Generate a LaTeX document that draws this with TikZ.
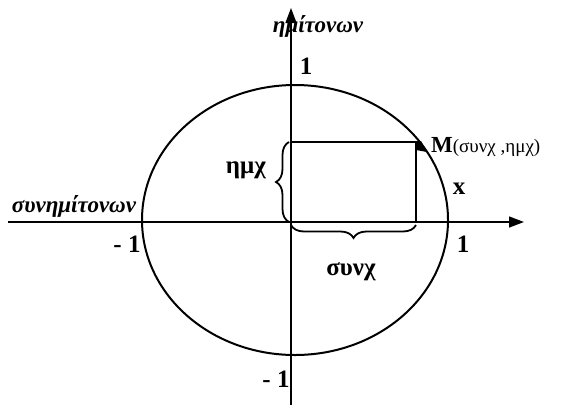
\documentclass[tikz,border=0pt]{standalone}
\usepackage{fontspec}
\setmainfont{Liberation Serif}
\usetikzlibrary{arrows.meta,decorations.pathreplacing,calc}
\tikzset{
  axis/.style={line width=1.3pt,-{Triangle[length=15pt,width=11pt]}},
  curve/.style={line width=2pt},
  thin/.style={line width=1.3pt},
  brc/.style={line width=1.8pt,decorate,decoration={brace,amplitude=13pt}},
  lab/.style={inner sep=0pt,font=\fontsize{25}{27}\selectfont\bfseries},
  ital/.style={inner sep=0pt,font=\fontsize{23}{25}\selectfont\itshape\bfseries}
}
\begin{document}
\begin{tikzpicture}[x=1pt,y=-1pt]
\useasboundingbox (0,0) rectangle (569,405);
\coordinate (O) at (291,222);
\coordinate (xs) at (8,222);
\coordinate (xe) at (524,222);
\coordinate (ys) at (291,405);
\coordinate (ye) at (291,8);
\coordinate (M) at (416,142);
\coordinate (A) at (291,142);
\coordinate (B) at (416,222);
\draw[axis] (xs) -- (xe);
\draw[axis] (ys) -- (ye);
\draw[curve] (295,220) ellipse [x radius=153, y radius=135];
\draw[thin] (A) -- (M) -- (B);
\fill ($(M)+(-1,-1)$) -- ++(6,0) -- ++(6,11) -- ++(-11,-2) -- cycle;
\draw[brc] (289,222) -- (289,142);
\draw[brc] (416,225) -- (291,225);
\node[ital] (yl) at (318,26) {ημίτονων};
\node[lab] (one1) at (306,66) {1};
\node[ital] (xl) at (74,206) {συνημίτονων};
\node[lab] (m1) at (127,244) {- 1};
\node[lab] (one2) at (463,244) {1};
\node[lab] (xx) at (459,189) {x};
\node[lab] (m2) at (276,379) {- 1};
\node[lab,anchor=east] (hm) at (266,170) {ημχ};
\node[lab] (sn) at (351,272) {συνχ};
\node[anchor=west,inner sep=0pt] (Ml) at (431,147) {\fontsize{23}{25}\selectfont\bfseries M\fontsize{19}{21}\selectfont\mdseries(συνχ ,ημχ)};
\end{tikzpicture}
\end{document}
